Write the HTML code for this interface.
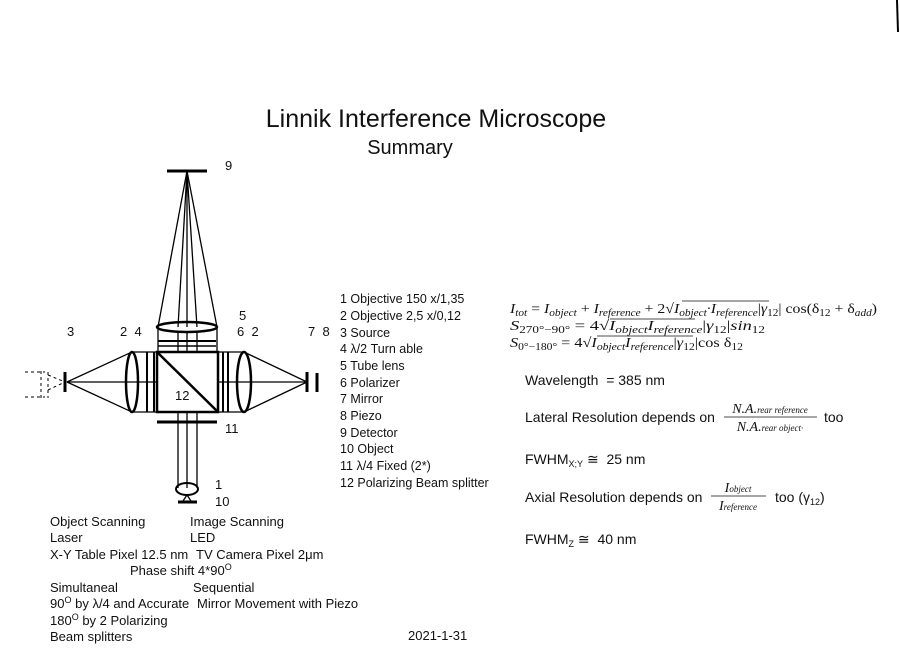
<!DOCTYPE html>
<html><head><meta charset="utf-8"><style>
html,body{margin:0;padding:0;background:#fff;}
svg{display:block;}
text{font-family:"Liberation Sans",sans-serif;fill:#111;}
.s{font-size:13px;}
.l{font-size:12.5px;}
.m{font-family:"Liberation Serif",serif;font-style:italic;font-size:14px;}
.r{font-size:14px;}
</style></head><body>
<svg width="900" height="663" viewBox="0 0 900 663" xmlns="http://www.w3.org/2000/svg">
<rect x="0" y="0" width="900" height="663" fill="#fff"/>
<line x1="897" y1="0" x2="898" y2="32" stroke="#000" stroke-width="2"/>
<text x="436" y="127" font-size="25" text-anchor="middle">Linnik Interference Microscope</text>
<text x="410" y="154" font-size="20" text-anchor="middle">Summary</text>

<g stroke="#000" fill="none" stroke-width="1.3">
<line x1="167" y1="171" x2="207" y2="171" stroke-width="3"/>
<line x1="187" y1="171" x2="158" y2="327"/>
<line x1="187" y1="171" x2="217" y2="327"/>
<line x1="187" y1="171" x2="178" y2="327"/>
<line x1="187" y1="171" x2="187" y2="327"/>
<line x1="187" y1="171" x2="197" y2="327"/>
<ellipse cx="187" cy="327" rx="30" ry="5" stroke-width="2.5"/>
<line x1="158" y1="327" x2="158" y2="352"/>
<line x1="217" y1="327" x2="217" y2="352"/>
<line x1="178" y1="332" x2="178" y2="352"/>
<line x1="187" y1="332" x2="187" y2="352"/>
<line x1="197" y1="332" x2="197" y2="352"/>
<line x1="158" y1="341" x2="216" y2="341" stroke-width="2"/>
<line x1="158" y1="346" x2="216" y2="346" stroke-width="1.5"/>
<rect x="157" y="352" width="61" height="60" stroke-width="2.5"/>
<line x1="157" y1="352" x2="218" y2="412" stroke-width="2.5"/>
<line x1="65" y1="372" x2="65" y2="392" stroke-width="3"/>
<line x1="67" y1="382" x2="132" y2="352"/>
<line x1="67" y1="382" x2="132" y2="412"/>
<line x1="67" y1="382" x2="157" y2="382"/>
<line x1="132" y1="352" x2="157" y2="352"/>
<line x1="132" y1="412" x2="157" y2="412"/>
<ellipse cx="132" cy="382" rx="6" ry="30" stroke-width="2.5"/>
<line x1="147" y1="352" x2="147" y2="412" stroke-width="2"/>
<line x1="154" y1="352" x2="154" y2="412" stroke-width="2"/>
<g stroke-dasharray="3,3" stroke-width="1">
<line x1="25" y1="372" x2="45" y2="372"/>
<line x1="25" y1="397" x2="45" y2="397"/>
<line x1="41" y1="371" x2="41" y2="398"/>
<line x1="48" y1="372" x2="48" y2="398"/>
<line x1="48" y1="375" x2="65" y2="382"/>
<line x1="48" y1="390" x2="65" y2="382"/>
</g>
<line x1="223" y1="352" x2="223" y2="412" stroke-width="2"/>
<line x1="228" y1="352" x2="228" y2="412" stroke-width="2"/>
<line x1="218" y1="352" x2="244" y2="352"/>
<line x1="218" y1="412" x2="244" y2="412"/>
<line x1="218" y1="382" x2="307" y2="382"/>
<ellipse cx="244" cy="382" rx="7" ry="30" stroke-width="2.5"/>
<line x1="244" y1="352" x2="307" y2="382"/>
<line x1="244" y1="412" x2="307" y2="382"/>
<line x1="307" y1="372" x2="307" y2="392" stroke-width="3"/>
<line x1="317" y1="373" x2="317" y2="392" stroke-width="3"/>
<line x1="157" y1="422" x2="217" y2="422" stroke-width="3"/>
<line x1="178" y1="412" x2="178" y2="488"/>
<line x1="187" y1="412" x2="187" y2="488"/>
<line x1="197" y1="412" x2="197" y2="488"/>
<ellipse cx="187" cy="489" rx="11" ry="6" stroke-width="2"/>
<line x1="187" y1="495" x2="183" y2="501"/>
<line x1="187" y1="495" x2="191" y2="501"/>
<line x1="178" y1="502" x2="197" y2="502" stroke-width="3"/>
</g>

<g class="s">
<text x="225" y="170">9</text>
<text x="239" y="320">5</text>
<text x="237" y="336">6 &#160;2</text>
<text x="308" y="336">7 &#160;8</text>
<text x="67" y="336">3</text>
<text x="120" y="336">2 &#160;4</text>
<text x="175" y="400">12</text>
<text x="225" y="433">11</text>
<text x="215" y="489">1</text>
<text x="215" y="506">10</text>
</g>

<g class="l">
<text x="340" y="303">1 Objective 150 x/1,35</text>
<text x="340" y="320">2 Objective 2,5 x/0,12</text>
<text x="340" y="337">3 Source</text>
<text x="340" y="353">4 λ/2 Turn able</text>
<text x="340" y="370">5 Tube lens</text>
<text x="340" y="387">6 Polarizer</text>
<text x="340" y="403">7 Mirror</text>
<text x="340" y="420">8 Piezo</text>
<text x="340" y="437">9 Detector</text>
<text x="340" y="453">10 Object</text>
<text x="340" y="470">11 λ/4 Fixed (2*)</text>
<text x="340" y="487">12 Polarizing Beam splitter</text>
</g>

<g class="s">
<text x="50" y="526">Object Scanning</text><text x="190" y="526">Image Scanning</text>
<text x="50" y="542">Laser</text><text x="190" y="542">LED</text>
<text x="50" y="559">X-Y Table Pixel 12.5 nm</text><text x="196" y="559">TV Camera Pixel 2μm</text>
<text x="130" y="575">Phase shift 4*90<tspan font-size="9" dy="-5">O</tspan></text>
<text x="50" y="592">Simultaneal</text><text x="193" y="592">Sequential</text>
<text x="50" y="608">90<tspan font-size="9" dy="-5">O</tspan><tspan dy="5"> by λ/4 and Accurate</tspan></text><text x="197" y="608">Mirror Movement with Piezo</text>
<text x="50" y="625">180<tspan font-size="9" dy="-5">O</tspan><tspan dy="5"> by 2 Polarizing</tspan></text>
<text x="50" y="641">Beam splitters</text>
<text x="408" y="640">2021-1-31</text>
</g>

<g>
<text x="510" y="313" class="m" textLength="367" lengthAdjust="spacingAndGlyphs">I<tspan font-size="10" dy="3">tot</tspan><tspan dy="-3" font-style="normal"> = </tspan>I<tspan font-size="10" dy="3">object</tspan><tspan dy="-3" font-style="normal"> + </tspan>I<tspan font-size="10" dy="3">reference</tspan><tspan dy="-3" font-style="normal"> + 2√</tspan>I<tspan font-size="10" dy="3">object</tspan><tspan dy="-3">·I</tspan><tspan font-size="10" dy="3">reference</tspan><tspan dy="-3" font-style="normal">|</tspan>γ<tspan font-size="10" dy="3" font-style="normal">12</tspan><tspan dy="-3" font-style="normal">| cos(δ</tspan><tspan font-size="10" dy="3" font-style="normal">12</tspan><tspan dy="-3" font-style="normal"> + δ</tspan><tspan font-size="10" dy="3">add</tspan><tspan dy="-3" font-style="normal">)</tspan></text>
<line x1="682" y1="301" x2="769" y2="301" stroke="#111" stroke-width="0.8"/>
<text x="510" y="330" class="m" textLength="255" lengthAdjust="spacingAndGlyphs">S<tspan font-size="10" dy="3" font-style="normal">270°−90°</tspan><tspan dy="-3" font-style="normal"> = 4√</tspan>I<tspan font-size="10" dy="3">object</tspan><tspan dy="-3">I</tspan><tspan font-size="10" dy="3">reference</tspan><tspan dy="-3" font-style="normal">|</tspan>γ<tspan font-size="10" dy="3" font-style="normal">12</tspan><tspan dy="-3" font-style="normal">|</tspan>sin<tspan font-size="10" dy="3" font-style="normal">12</tspan></text>
<line x1="610" y1="319" x2="695" y2="319" stroke="#111" stroke-width="0.8"/>
<text x="510" y="347" class="m" textLength="233" lengthAdjust="spacingAndGlyphs">S<tspan font-size="10" dy="3" font-style="normal">0°−180°</tspan><tspan dy="-3" font-style="normal"> = 4√</tspan>I<tspan font-size="10" dy="3">object</tspan><tspan dy="-3">I</tspan><tspan font-size="10" dy="3">reference</tspan><tspan dy="-3" font-style="normal">|</tspan>γ<tspan font-size="10" dy="3" font-style="normal">12</tspan><tspan dy="-3" font-style="normal">|cos δ</tspan><tspan font-size="10" dy="3" font-style="normal">12</tspan></text>
<line x1="597" y1="336" x2="693" y2="336" stroke="#111" stroke-width="0.8"/>
</g>

<g class="r">
<text x="525" y="385">Wavelength &#160;= 385 nm</text>
<text x="525" y="422">Lateral Resolution depends on</text>
<text x="770" y="413" class="m" font-size="11" text-anchor="middle">N.A.<tspan font-size="9">rear reference</tspan></text>
<line x1="724" y1="417" x2="817" y2="417" stroke="#111" stroke-width="0.8"/>
<text x="770" y="431" class="m" font-size="11" text-anchor="middle">N.A.<tspan font-size="9">rear object·</tspan></text>
<text x="824" y="422">too</text>
<text x="525" y="464">FWHM<tspan font-size="9" dy="3">X;Y</tspan><tspan dy="-3"> ≅ &#160;25 nm</tspan></text>
<text x="525" y="502">Axial Resolution depends on</text>
<text x="738" y="492" class="m" font-size="11" text-anchor="middle">I<tspan font-size="9">object</tspan></text>
<line x1="711" y1="496" x2="766" y2="496" stroke="#111" stroke-width="0.8"/>
<text x="738" y="510" class="m" font-size="11" text-anchor="middle">I<tspan font-size="9">reference</tspan></text>
<text x="775" y="502">too (γ<tspan font-size="9" dy="3">12</tspan><tspan dy="-3">)</tspan></text>
<text x="525" y="544">FWHM<tspan font-size="9" dy="3">Z</tspan><tspan dy="-3"> ≅ &#160;40 nm</tspan></text>
</g>
</svg>
</body></html>
